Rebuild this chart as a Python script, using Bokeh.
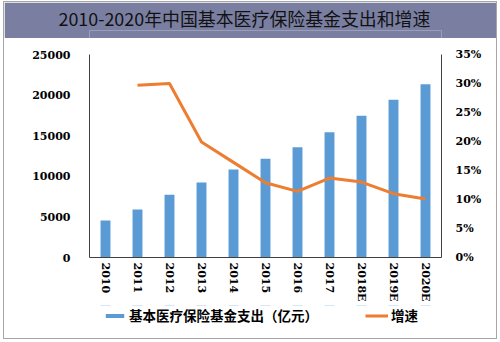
import math
from bokeh.plotting import figure
from bokeh.models import (ColumnDataSource, FactorRange, Range1d, LinearAxis,
                          NumeralTickFormatter, FixedTicker, Legend, LegendItem, Title)
from bokeh.layouts import column
from bokeh.embed import file_html
from bokeh.resources import INLINE

title_text = "2010-2020年中国基本医疗保险基金支出和增速"
years = ["2010", "2011", "2012", "2013", "2014", "2015", "2016", "2017", "2018E", "2019E", "2020E"]
spending = [4550, 5900, 7720, 9240, 10840, 12150, 13580, 15430, 17450, 19420, 21340]
growth = [float("nan"), 0.297, 0.300, 0.199, 0.164, 0.129, 0.114, 0.137, 0.130, 0.110, 0.101]
left_ticks = [0, 5000, 10000, 15000, 20000, 25000]
right_ticks = [0, 0.05, 0.10, 0.15, 0.20, 0.25, 0.30, 0.35]
bar_label = "基本医疗保险基金支出（亿元）"
line_label = "增速"

BAND = "#7a7fa1"
BLUE = "#5b9bd5"
ORANGE = "#ed7d31"
AXIS = "#404040"
num_font = "DejaVu Serif"
cjk_font = "Noto Sans CJK SC"

# ---- header band with title
header = figure(width=492, height=36, x_range=Range1d(0, 1), y_range=Range1d(0, 1),
                x_axis_type=None, y_axis_type=None, toolbar_location=None,
                output_backend="svg", min_border_top=9, min_border_bottom=0,
                min_border_left=0, min_border_right=0)
header.background_fill_color = BAND
header.border_fill_color = BAND
header.outline_line_color = None
header.grid.visible = False
header.title = Title(text=title_text, align="left", offset=-31, standoff=0,
                     text_font=cjk_font, text_font_size="17.9px", text_font_style="normal",
                     text_color="#111111")

# ---- main chart
src = ColumnDataSource(dict(years=years, spending=spending, growth=growth))

p = figure(width=492, height=267, x_range=FactorRange(*years, range_padding=0),
           y_range=Range1d(0, 25000), toolbar_location=None, output_backend="svg",
           min_border_left=85, min_border_right=55, min_border_top=16, min_border_bottom=48)
p.extra_y_ranges = {"pct": Range1d(0, 0.35)}
p.outline_line_color = None
p.background_fill_color = "white"
p.border_fill_color = "white"
p.xgrid.visible = False
p.ygrid.visible = False

p.vbar(x="years", top="spending", width=0.31, source=src, fill_color=BLUE, line_color=None)
p.line(x="years", y="growth", source=src, y_range_name="pct", line_color=ORANGE, line_width=3)

right = LinearAxis(y_range_name="pct")
p.add_layout(right, "right")

for ax in p.axis:
    ax.major_tick_line_color = None
    ax.minor_tick_line_color = None
    ax.major_tick_out = 0
    ax.major_tick_in = 0
    ax.minor_tick_out = 0
    ax.minor_tick_in = 0
    ax.axis_line_color = AXIS
    ax.major_label_text_font = num_font
    ax.major_label_text_font_style = "bold"
    ax.major_label_text_font_size = "11px"
    ax.major_label_text_color = "#000000"

p.yaxis[0].ticker = FixedTicker(ticks=left_ticks)
p.yaxis[0].major_label_standoff = 19
right.ticker = FixedTicker(ticks=right_ticks)
right.formatter = NumeralTickFormatter(format="0%")
right.major_label_standoff = 14

xa = p.xaxis[0]
xa.major_label_orientation = -math.pi / 2
xa.major_label_standoff = 5

# ---- legend strip (same data; ranges keep the marks out of view, only legend samples show)
lf = figure(width=492, height=33, x_range=FactorRange(*years, range_padding=0),
            y_range=Range1d(-2, -1), x_axis_type=None, y_axis_type=None,
            toolbar_location=None, output_backend="svg", min_border_left=85,
            min_border_right=55, min_border_top=0, min_border_bottom=0)
lf.outline_line_color = None
lf.grid.visible = False
lf.background_fill_color = "white"
lf.border_fill_color = "white"
r_bar = lf.vbar(x="years", top="spending", width=0.31, source=src, fill_color=BLUE, line_color=None)
r_line = lf.line(x="years", y="growth", source=src, line_color=ORANGE, line_width=3)

leg = Legend(items=[LegendItem(label=bar_label, renderers=[r_bar]),
                    LegendItem(label=line_label, renderers=[r_line])],
             orientation="horizontal", location=(14, 13),
             glyph_width=23, glyph_height=5, label_height=20, label_standoff=3, spacing=47)
leg.border_line_color = None
leg.background_fill_alpha = 0
leg.label_text_font = cjk_font
leg.label_text_font_style = "bold"
leg.label_text_font_size = "13.5px"
leg.label_text_color = "#000000"
leg.padding = 0
leg.margin = 0
lf.add_layout(leg, "center")

layout = column(header, p, lf, spacing=0,
                styles={"border": "1px solid #a6a6a6", "margin-left": "3px", "margin-top": "1px"})

open("out.html", "w").write(file_html(layout, INLINE))
